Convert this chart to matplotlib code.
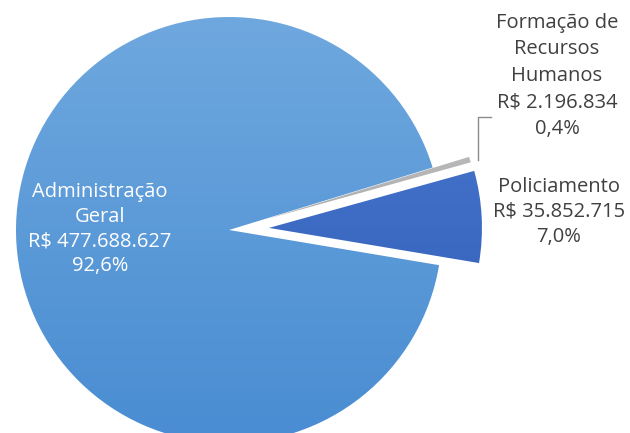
import numpy as np
import matplotlib.pyplot as plt

# Orçamento por programa
labels = ['Policiamento', 'Formação de\nRecursos\nHumanos', 'Administração\nGeral']
valores = [35852715, 2196834, 477688627]
valores_txt = ['R$ 35.852.715', 'R$ 2.196.834', 'R$ 477.688.627']
pct_txt = ['7,0%', '0,4%', '92,6%']

# cores (topo, base) para o degradê
cores = [('#4f7dd4', '#2d5bb4'), ('#cfcfcf', '#8f8f8f'), ('#70a9df', '#4a8dd2')]

plt.rcParams['font.family'] = ['Open Sans', 'DejaVu Sans']

fig = plt.figure(figsize=(6.3, 4.33), dpi=100)
ax = fig.add_axes([0, 0, 1, 1])

cx, cy, r = 229, 203, 213
inicio = -9.5

wedges, _ = ax.pie(valores, explode=[40, 38, 0], startangle=inicio,
                   center=(cx, cy), radius=r, counterclock=True,
                   wedgeprops=dict(linewidth=0), frame=False)

grad = np.linspace(0, 1, 256).reshape(-1, 1)
for w, (c1, c2) in zip(wedges, cores):
    w.set_facecolor('none')
    cmap = plt.matplotlib.colors.LinearSegmentedColormap.from_list('g', [c2, c1])
    im = ax.imshow(grad, cmap=cmap, origin='lower', extent=[0, 630, 0, 433],
                   aspect='auto', zorder=1)
    im.set_clip_path(w)
ax.set_xlim(0, 630)
ax.set_ylim(0, 433)
ax.set_aspect('equal')
ax.axis('off')

cinza = '#404040'
ax.text(100, 204, labels[2] + '\n' + valores_txt[2] + '\n' + pct_txt[2],
        ha='center', va='center', color='white', fontsize=14.5,
        linespacing=1.33, zorder=5)
ax.text(559, 221, labels[0] + '\n' + valores_txt[0] + '\n' + pct_txt[0],
        ha='center', va='center', color=cinza, fontsize=14.5,
        linespacing=1.36, zorder=5)
ax.text(557, 357, labels[1] + '\n' + valores_txt[1] + '\n' + pct_txt[1],
        ha='center', va='center', color=cinza, fontsize=14.5,
        linespacing=1.44, zorder=5)

# linha guia para a fatia pequena
ax.plot([478, 478, 491], [273, 316, 316], color='#8c8c8c', lw=1, zorder=4)

fig.savefig('out.png', dpi=100)
